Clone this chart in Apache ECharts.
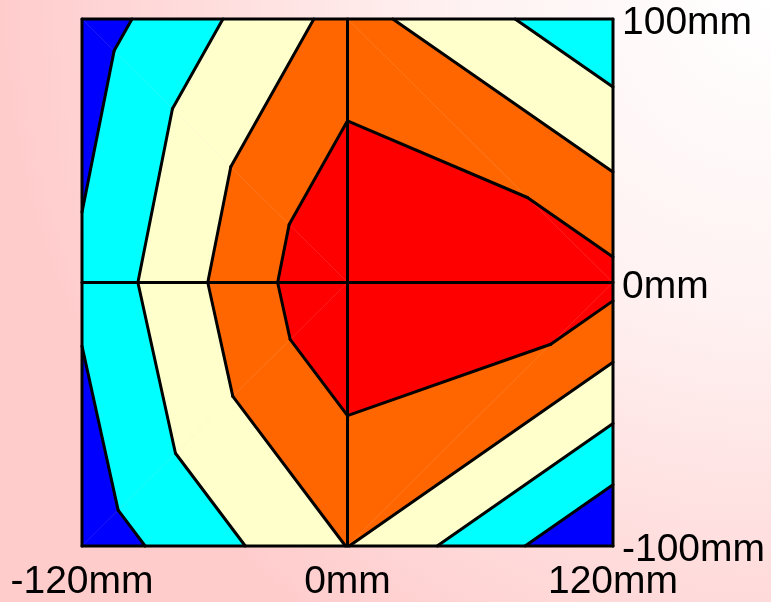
<!DOCTYPE html>
<html><head><meta charset="utf-8">
<script src="https://cdn.jsdelivr.net/npm/echarts@6/dist/echarts.min.js"></script>
<style>html,body{margin:0;padding:0;width:771px;height:602px;overflow:hidden}#c{width:771px;height:602px}</style>
</head><body><div id="c"></div>
<script>
// ---- data ----
const xNodes = [-120, 0, 120];
const yNodes = [-100, 0, 100];
const zRowBottom = [0.37, 3.02, 0.0];   // y = -100
const zRowMiddle = [1.2, 5.0, 4.3];     // y = 0
const zRowTop = [0.45, 3.37, 1.2];      // y = 100
const levels = [1, 2, 3, 4];
const bandColors = ['#0000FF', '#00FFFF', '#FFFFCC', '#FF6600', '#FF0000'];
const xTicks = [-120, 0, 120];
const yTicks = [-100, 0, 100];
const unit = 'mm';

const zRows = [zRowBottom, zRowMiddle, zRowTop];
function node(i, j) { return [xNodes[i], yNodes[j], zRows[j][i]]; }
const triangles = [];
for (let j = 0; j < yNodes.length - 1; j++) {
  for (let i = 0; i < xNodes.length - 1; i++) {
    const a = node(i, j), b = node(i + 1, j), c = node(i + 1, j + 1), d = node(i, j + 1);
    if (j === 0) { triangles.push([a, b, c], [a, c, d]); }
    else { triangles.push([a, b, d], [b, c, d]); }
  }
}
function clip(poly, L, keepAbove) {
  const out = [];
  for (let k = 0; k < poly.length; k++) {
    const p = poly[k], q = poly[(k + 1) % poly.length];
    const pin = keepAbove ? p[2] >= L : p[2] <= L;
    const qin = keepAbove ? q[2] >= L : q[2] <= L;
    if (pin) out.push(p);
    if (pin !== qin) {
      const t = (L - p[2]) / (q[2] - p[2]);
      out.push([p[0] + t * (q[0] - p[0]), p[1] + t * (q[1] - p[1]), L]);
    }
  }
  return out;
}
const polys = [];
triangles.forEach(tri => {
  for (let b = 0; b <= levels.length; b++) {
    let poly = tri;
    if (b > 0) poly = clip(poly, levels[b - 1], true);
    if (poly.length >= 3 && b < levels.length) poly = clip(poly, levels[b], false);
    if (poly.length >= 3) polys.push({ pts: poly.map(p => [p[0], p[1]]), color: bandColors[b] });
  }
});
const segs = [];
triangles.forEach(tri => {
  levels.forEach(L => {
    const pts = [];
    for (let k = 0; k < 3; k++) {
      const p = tri[k], q = tri[(k + 1) % 3];
      if ((p[2] - L) * (q[2] - L) < 0) {
        const t = (L - p[2]) / (q[2] - p[2]);
        pts.push([p[0] + t * (q[0] - p[0]), p[1] + t * (q[1] - p[1])]);
      }
    }
    if (pts.length === 2) segs.push(pts);
  });
});
const xMin = xNodes[0], xMax = xNodes[xNodes.length - 1];
const yMin = yNodes[0], yMax = yNodes[yNodes.length - 1];
xNodes.forEach(x => segs.push([[x, yMin], [x, yMax]]));
yNodes.forEach(y => segs.push([[xMin, y], [xMax, y]]));

const FONT = 'Liberation Sans';
const chart = echarts.init(document.getElementById('c'), null, { renderer: 'canvas' });
chart.setOption({
  animation: false,
  backgroundColor: 'transparent',
  graphic: [{
    type: 'rect', z: -100, silent: true,
    shape: { x: 0, y: 0, width: 771, height: 602 },
    style: { fill: new echarts.graphic.RadialGradient(1, 0, 1.28, [
      { offset: 0, color: '#FFFFFF' },
      { offset: 0.4, color: '#FFF2F2' },
      { offset: 1, color: '#FFCCCC' }
    ]) }
  }],
  grid: { left: 82, right: 158, top: 19, bottom: 55, show: false },
  xAxis: {
    type: 'value', min: xTicks[0], max: xTicks[xTicks.length - 1], interval: xTicks[1] - xTicks[0],
    axisLine: { show: false }, axisTick: { show: false }, splitLine: { show: false },
    axisLabel: { formatter: v => v + unit, color: '#000', fontSize: 39, fontFamily: FONT, margin: 17 }
  },
  yAxis: {
    type: 'value', position: 'right', min: yTicks[0], max: yTicks[yTicks.length - 1], interval: yTicks[1] - yTicks[0],
    axisLine: { show: false }, axisTick: { show: false }, splitLine: { show: false },
    axisLabel: { formatter: v => v + unit, color: '#000', fontSize: 39, fontFamily: FONT, margin: 9,
      verticalAlign: 'top', lineHeight: 9 }
  },
  series: [
    {
      type: 'custom', name: 'bands', data: polys.map((p, k) => [k]),
      renderItem: (params, api) => {
        const p = polys[params.dataIndex];
        return { type: 'polygon', shape: { points: p.pts.map(pt => api.coord(pt)) },
          style: { fill: p.color, stroke: p.color, lineWidth: 0.3 } };
      }
    },
    {
      type: 'custom', name: 'lines', data: segs.map((s, k) => [k]),
      renderItem: (params, api) => {
        const s = segs[params.dataIndex];
        const a = api.coord(s[0]), b = api.coord(s[1]);
        return { type: 'line', shape: { x1: a[0], y1: a[1], x2: b[0], y2: b[1] },
          style: { stroke: '#000', lineWidth: 3, lineCap: 'round' } };
      }
    }
  ]
});
</script></body></html>
